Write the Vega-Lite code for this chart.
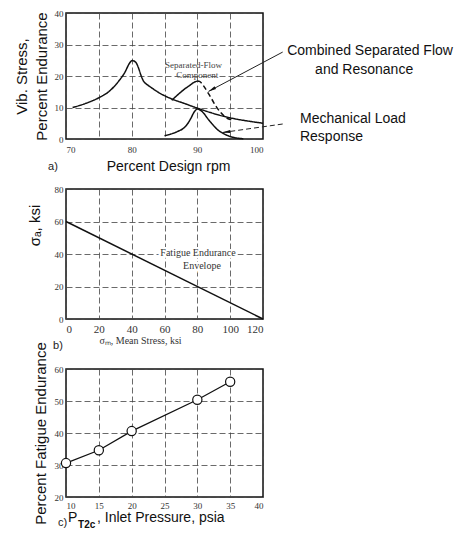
{
  "$schema": "https://vega.github.io/schema/vega-lite/v6.json",
  "padding": {"left": 13, "top": 8, "right": 0, "bottom": 0},
  "spacing": 50,
  "bounds": "flush",
  "datasets": {
    "a_curves": [
      {"series": "main", "x": 71, "y": 10},
      {"series": "main", "x": 73, "y": 11.3},
      {"series": "main", "x": 75, "y": 13.1},
      {"series": "main", "x": 76.5, "y": 15},
      {"series": "main", "x": 78, "y": 18.3},
      {"series": "main", "x": 79, "y": 21.3},
      {"series": "main", "x": 79.6, "y": 23.8},
      {"series": "main", "x": 80.1, "y": 24.9},
      {"series": "main", "x": 80.6, "y": 24.4},
      {"series": "main", "x": 81, "y": 22.8},
      {"series": "main", "x": 81.4, "y": 20.3},
      {"series": "main", "x": 81.8, "y": 18.4},
      {"series": "main", "x": 82.4, "y": 17.2},
      {"series": "main", "x": 83, "y": 16.3},
      {"series": "main", "x": 84, "y": 14.9},
      {"series": "main", "x": 86, "y": 12.8},
      {"series": "main", "x": 88, "y": 11.3},
      {"series": "main", "x": 90, "y": 9.8},
      {"series": "main", "x": 92, "y": 8.4},
      {"series": "main", "x": 94, "y": 7.2},
      {"series": "main", "x": 96, "y": 6.3},
      {"series": "main", "x": 98, "y": 5.6},
      {"series": "main", "x": 100, "y": 5.0},
      {"series": "sep_rise", "x": 86.1, "y": 12.3},
      {"series": "sep_rise", "x": 87, "y": 14},
      {"series": "sep_rise", "x": 87.9, "y": 15.6},
      {"series": "sep_rise", "x": 88.9, "y": 17.1},
      {"series": "sep_rise", "x": 89.5, "y": 18},
      {"series": "sep_rise", "x": 90, "y": 18.4},
      {"series": "sep_fall", "x": 90, "y": 18.4},
      {"series": "sep_fall", "x": 90.4, "y": 18.2},
      {"series": "sep_fall", "x": 90.9, "y": 17},
      {"series": "sep_fall", "x": 91.7, "y": 14.4},
      {"series": "sep_fall", "x": 92.3, "y": 12.3},
      {"series": "sep_fall", "x": 92.9, "y": 10.2},
      {"series": "sep_fall", "x": 93.6, "y": 8.3},
      {"series": "sep_fall", "x": 94.3, "y": 6.9},
      {"series": "sep_fall", "x": 95.3, "y": 6.0},
      {"series": "mech", "x": 85, "y": 1},
      {"series": "mech", "x": 86, "y": 1.6},
      {"series": "mech", "x": 87, "y": 2.4},
      {"series": "mech", "x": 88, "y": 3.6},
      {"series": "mech", "x": 88.5, "y": 4.8},
      {"series": "mech", "x": 89, "y": 6.5},
      {"series": "mech", "x": 89.5, "y": 8.5},
      {"series": "mech", "x": 90, "y": 9.5},
      {"series": "mech", "x": 90.5, "y": 9.1},
      {"series": "mech", "x": 91, "y": 8.1},
      {"series": "mech", "x": 91.5, "y": 6.7},
      {"series": "mech", "x": 92, "y": 5.4},
      {"series": "mech", "x": 92.5, "y": 4.2},
      {"series": "mech", "x": 93, "y": 3.1},
      {"series": "mech", "x": 94, "y": 1.7},
      {"series": "mech", "x": 95, "y": 0.8},
      {"series": "mech", "x": 96, "y": 0.3},
      {"series": "mech", "x": 97, "y": 0.1}
    ],
    "a_arrows": [
      {"arrow": "combined", "x": 103.0, "y": 27.6, "x2": 91.7, "y2": 15.1},
      {"arrow": "mechanical", "x": 103.0, "y": 4.76, "x2": 93.83, "y2": 2.06}
    ],
    "a_notes": [
      {"note": "c1", "x": 116.3, "y": 27.9, "label": "Combined Separated Flow"},
      {"note": "c2", "x": 115.4, "y": 21.9, "label": "and Resonance"},
      {"note": "m1", "x": 105.63, "y": 6.35, "label": "Mechanical Load"},
      {"note": "m2", "x": 105.63, "y": 0.63, "label": "Response"},
      {"note": "s1", "x": 89.4, "y": 23.5, "label": "Separated-Flow"},
      {"note": "s2", "x": 90.0, "y": 20.3, "label": "Component"},
      {"note": "tag", "x": 67.26, "y": -8.9, "label": "a)"}
    ],
    "b_line": [
      {"x": 0, "y": 60},
      {"x": 120, "y": 0}
    ],
    "b_notes": [
      {"note": "f1", "x": 80.4, "y": 40.6, "label": "Fatigue Endurance"},
      {"note": "f2", "x": 82.8, "y": 32.6, "label": "Envelope"},
      {"note": "tag", "x": -7.9, "y": -16.6, "label": "b)"}
    ],
    "c_points": [
      {"x": 10, "y": 30.6},
      {"x": 15, "y": 34.6},
      {"x": 20, "y": 40.6},
      {"x": 30, "y": 50.4},
      {"x": 35, "y": 56}
    ],
    "c_notes": [
      {"note": "tag", "x": 8.78, "y": 11.9, "label": "c)"},
      {"note": "P", "x": 10.3, "y": 13.4, "label": "P"},
      {"note": "sub", "x": 11.83, "y": 11.3, "label": "T2c"},
      {"note": "rest", "x": 14.72, "y": 13.4, "label": ", Inlet Pressure, psia"}
    ]
  },
  "vconcat": [
    {
      "width": 197,
      "height": 126,
      "encoding": {
        "x": {"field": "x", "type": "quantitative",
          "scale": {"domain": [70, 100], "nice": false, "zero": false},
          "axis": {"values": [70, 75, 80, 85, 90, 95, 100],
            "labelExpr": "datum.value % 10 === 0 ? datum.label : ''",
            "labelFontSize": 9, "labelPadding": 6,
            "title": "Percent Design rpm", "titleFontSize": 14, "titlePadding": 5, "titleX": 102}},
        "y": {"field": "y", "type": "quantitative",
          "scale": {"domain": [0, 40], "nice": false},
          "axis": {"values": [0, 10, 20, 30, 40], "labelFontSize": 9, "labelPadding": 3,
            "title": ["Vib. Stress,", "Percent Endurance"], "titleLineHeight": 20, "titlePadding": 5}}
      },
      "layer": [
        {
          "data": {"name": "a_curves"},
          "mark": {"type": "line", "color": "#111", "strokeWidth": 1.5, "interpolate": "monotone"},
          "encoding": {
            "strokeDash": {"field": "series", "type": "nominal",
              "scale": {"domain": ["main", "sep_rise", "sep_fall", "mech"], "range": [[1, 0], [1, 0], [5, 3], [1, 0]]},
              "legend": null}
          }
        },
        {
          "data": {"name": "a_arrows"},
          "transform": [{"filter": "datum.arrow === 'combined'"}],
          "mark": {"type": "rule", "color": "#222", "strokeWidth": 1},
          "encoding": {"x2": {"field": "x2"}, "y2": {"field": "y2"}}
        },
        {
          "data": {"name": "a_arrows"},
          "transform": [{"filter": "datum.arrow === 'mechanical'"}],
          "mark": {"type": "rule", "color": "#222", "strokeWidth": 1, "strokeDash": [5, 3]},
          "encoding": {"x2": {"field": "x2"}, "y2": {"field": "y2"}}
        },
        {
          "data": {"values": [{"x": 92.22, "y": 15.7}]},
          "mark": {"type": "point", "shape": "M0,-1L0.4,1L-0.4,1Z", "filled": true, "color": "#111", "size": 60, "angle": 240.8, "opacity": 1}
        },
        {
          "data": {"values": [{"x": 94.41, "y": 2.22}]},
          "mark": {"type": "point", "shape": "M0,-1L0.4,1L-0.4,1Z", "filled": true, "color": "#111", "size": 60, "angle": 262, "opacity": 1}
        },
        {
          "data": {"name": "a_notes"},
          "transform": [{"filter": "datum.note === 'c1' || datum.note === 'c2'"}],
          "mark": {"type": "text", "font": "Liberation Sans", "fontSize": 14, "align": "center", "baseline": "middle", "color": "#111"},
          "encoding": {"text": {"field": "label"}}
        },
        {
          "data": {"name": "a_notes"},
          "transform": [{"filter": "datum.note === 'm1' || datum.note === 'm2'"}],
          "mark": {"type": "text", "font": "Liberation Sans", "fontSize": 14, "align": "left", "baseline": "middle", "color": "#111"},
          "encoding": {"text": {"field": "label"}}
        },
        {
          "data": {"name": "a_notes"},
          "transform": [{"filter": "datum.note === 's1' || datum.note === 's2'"}],
          "mark": {"type": "text", "font": "Liberation Serif", "fontSize": 9, "align": "center", "baseline": "middle", "color": "#444"},
          "encoding": {"text": {"field": "label"}}
        },
        {
          "data": {"name": "a_notes"},
          "transform": [{"filter": "datum.note === 'tag'"}],
          "mark": {"type": "text", "font": "Liberation Sans", "fontSize": 11, "align": "left", "baseline": "middle", "color": "#222"},
          "encoding": {"text": {"field": "label"}}
        }
      ]
    },
    {
      "width": 197,
      "height": 130,
      "encoding": {
        "x": {"field": "x", "type": "quantitative",
          "scale": {"domain": [0, 120], "nice": false},
          "axis": {"values": [0, 20, 40, 60, 80, 100, 120], "labelFontSize": 11, "labelPadding": 4,
            "title": "σₘ, Mean Stress, ksi", "titleFont": "Liberation Serif", "titleFontSize": 10, "titleColor": "#333",
            "titlePadding": 1, "titleX": 74}},
        "y": {"field": "y", "type": "quantitative",
          "scale": {"domain": [0, 80], "nice": false},
          "axis": {"values": [0, 20, 40, 60, 80], "labelFontSize": 9, "labelPadding": 3,
            "title": "σₐ, ksi", "titlePadding": 12, "titleY": 36}}
      },
      "layer": [
        {
          "data": {"name": "b_line"},
          "mark": {"type": "line", "color": "#111", "strokeWidth": 1.5}
        },
        {
          "data": {"name": "b_notes"},
          "transform": [{"filter": "datum.note !== 'tag'"}],
          "mark": {"type": "text", "font": "Liberation Serif", "fontSize": 10, "align": "center", "baseline": "middle", "color": "white", "stroke": "white", "strokeWidth": 4},
          "encoding": {"text": {"field": "label"}}
        },
        {
          "data": {"name": "b_notes"},
          "transform": [{"filter": "datum.note !== 'tag'"}],
          "mark": {"type": "text", "font": "Liberation Serif", "fontSize": 10, "align": "center", "baseline": "middle", "color": "#333"},
          "encoding": {"text": {"field": "label"}}
        },
        {
          "data": {"name": "b_notes"},
          "transform": [{"filter": "datum.note === 'tag'"}],
          "mark": {"type": "text", "font": "Liberation Sans", "fontSize": 11, "align": "left", "baseline": "middle", "color": "#222"},
          "encoding": {"text": {"field": "label"}}
        }
      ]
    },
    {
      "width": 197,
      "height": 128,
      "encoding": {
        "x": {"field": "x", "type": "quantitative",
          "scale": {"domain": [10, 40], "nice": false, "zero": false},
          "axis": {"values": [10, 15, 20, 25, 30, 35, 40], "labelFontSize": 9, "labelPadding": 4, "title": null}},
        "y": {"field": "y", "type": "quantitative",
          "scale": {"domain": [20, 60], "nice": false, "zero": false},
          "axis": {"values": [20, 30, 40, 50, 60], "labelFontSize": 9, "labelPadding": 3,
            "title": "Percent Fatigue Endurance", "titlePadding": 6}}
      },
      "layer": [
        {
          "data": {"name": "c_points"},
          "mark": {"type": "line", "color": "#111", "strokeWidth": 1.3}
        },
        {
          "data": {"name": "c_points"},
          "mark": {"type": "point", "shape": "circle", "filled": true, "fill": "white", "stroke": "#111", "strokeWidth": 1.2, "size": 85, "opacity": 1}
        },
        {
          "data": {"name": "c_notes"},
          "transform": [{"filter": "datum.note === 'tag'"}],
          "mark": {"type": "text", "font": "Liberation Sans", "fontSize": 11, "align": "left", "baseline": "middle", "color": "#222"},
          "encoding": {"text": {"field": "label"}}
        },
        {
          "data": {"name": "c_notes"},
          "transform": [{"filter": "datum.note === 'P' || datum.note === 'rest'"}],
          "mark": {"type": "text", "font": "Liberation Sans", "fontSize": 14, "align": "left", "baseline": "middle", "color": "#111"},
          "encoding": {"text": {"field": "label"}}
        },
        {
          "data": {"name": "c_notes"},
          "transform": [{"filter": "datum.note === 'sub'"}],
          "mark": {"type": "text", "font": "Liberation Sans", "fontSize": 10, "fontWeight": "bold", "align": "left", "baseline": "middle", "color": "#111"},
          "encoding": {"text": {"field": "label"}}
        }
      ]
    }
  ],
  "config": {
    "view": {"stroke": "#111", "strokeWidth": 1.5},
    "axis": {
      "labelFont": "Liberation Serif", "labelColor": "#333",
      "ticks": false, "domain": false,
      "gridColor": "#444", "gridDash": [6, 3], "gridWidth": 0.8, "gridOpacity": 1,
      "titleFont": "Liberation Sans", "titleFontWeight": "normal", "titleFontSize": 15, "titleColor": "#111"
    }
  }
}
